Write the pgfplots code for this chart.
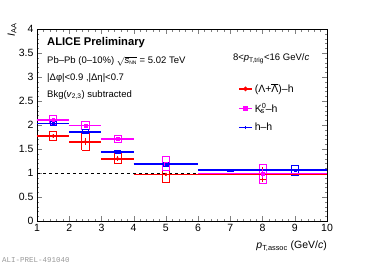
\documentclass[border=0pt]{standalone}
\usepackage{pgfplots}
\pgfplotsset{compat=1.18}
\usepackage{fontspec}
\setmainfont{Liberation Sans}
\newfontfamily\monofont{Liberation Mono}
\definecolor{rred}{RGB}{255,0,0}
\definecolor{rmag}{RGB}{255,0,255}
\definecolor{rblue}{RGB}{0,0,255}
\begin{document}
\begin{tikzpicture}
\begin{axis}[
  name=ax,
  width=290pt, height=192pt, scale only axis,
  xmin=1, xmax=10, ymin=0, ymax=4,
  xtick={1,2,...,10}, ytick={0,0.5,...,4},
  minor x tick num=4, minor y tick num=4,
  tick align=inside,
  major tick length=5pt, minor tick length=2.5pt,
  tick label style={font=\fontsize{10.5}{12}\selectfont},
  /pgf/number format/assume math mode=true,
  yticklabel style={/pgf/number format/fixed},
  xlabel={\textit{p}\textsubscript{T,assoc} (GeV/\textit{c})},
  ylabel={\textit{I}\textsubscript{AA}},
  xlabel style={at={(axis description cs:1,-0.13)}, anchor=east, inner sep=0pt, font=\fontsize{10.5}{12}\selectfont},
  ylabel style={at={(axis description cs:-0.07,1.03)}, anchor=south east, inner sep=0pt, font=\fontsize{10.5}{12}\selectfont},
  clip=false,
  legend style={draw=none, fill=none, at={(axis cs:7.24,2.91)}, anchor=north west,
    font=\fontsize{10.5}{12}\selectfont, row sep=5pt, inner sep=0pt},
  legend cell align=left,
  legend image code/.code={
    \draw[#1, mark=none] (0pt,0pt) -- (13pt,0pt);
    \draw[#1, draw=none] plot coordinates {(6.5pt,0pt)};
  },
]
% dashed reference
\addplot[black, dashed, thin, forget plot] coordinates {(1,1)(10,1)};

% red sys boxes
\addplot[draw=rred, line width=0.7pt, forget plot, unbounded coords=jump] coordinates {
(1.39,1.67)(1.61,1.67)(1.61,1.87)(1.39,1.87)(1.39,1.67) (1.5,nan)
(2.39,1.48)(2.61,1.48)(2.61,1.82)(2.39,1.82)(2.39,1.48) (2.5,nan)
(3.39,1.20)(3.61,1.20)(3.61,1.40)(3.39,1.40)(3.39,1.20) (3.5,nan)
(4.89,0.81)(5.11,0.81)(5.11,1.13)(4.89,1.13)(4.89,0.81) (5,nan)
(7.89,0.87)(8.11,0.87)(8.11,1.07)(7.89,1.07)(7.89,0.87)
};
% magenta sys boxes
\addplot[draw=rmag, line width=0.7pt, forget plot, unbounded coords=jump] coordinates {
(1.39,2.02)(1.61,2.02)(1.61,2.20)(1.39,2.20)(1.39,2.02) (1.5,nan)
(2.39,1.90)(2.61,1.90)(2.61,2.08)(2.39,2.08)(2.39,1.90) (2.5,nan)
(3.39,1.64)(3.61,1.64)(3.61,1.78)(3.39,1.78)(3.39,1.64) (3.5,nan)
(4.89,1.05)(5.11,1.05)(5.11,1.35)(4.89,1.35)(4.89,1.05) (5,nan)
(7.89,0.78)(8.11,0.78)(8.11,1.18)(7.89,1.18)(7.89,0.78)
};
% blue sys boxes
\addplot[draw=rblue, line width=0.7pt, forget plot, unbounded coords=jump] coordinates {
(1.41,1.99)(1.59,1.99)(1.59,2.07)(1.41,2.07)(1.41,1.99) (1.5,nan)
(2.41,1.82)(2.59,1.82)(2.59,1.90)(2.41,1.90)(2.41,1.82) (2.5,nan)
(3.41,1.41)(3.59,1.41)(3.59,1.47)(3.41,1.47)(3.41,1.41) (3.5,nan)
(4.91,1.14)(5.09,1.14)(5.09,1.22)(4.91,1.22)(4.91,1.14) (5,nan)
(6.91,1.04)(7.09,1.04)(7.09,1.08)(6.91,1.08)(6.91,1.04) (7,nan)
(8.89,0.96)(9.11,0.96)(9.11,1.16)(8.89,1.16)(8.89,0.96)
};

% horizontal bin-width bars (drawn red, magenta, blue)
\addplot[draw=rred, line width=1.8pt, forget plot, unbounded coords=jump] coordinates {
(1,1.77)(2,1.77) (2,nan) (2,1.65)(3,1.65) (3,nan) (3,1.30)(4,1.30) (4,nan)
(4,0.97)(6,0.97) (6,nan) (6,0.97)(10,0.97)
};
\addplot[draw=rmag, line width=1.8pt, forget plot, unbounded coords=jump] coordinates {
(1,2.11)(2,2.11) (2,nan) (2,1.99)(3,1.99) (3,nan) (3,1.71)(4,1.71) (4,nan)
(4,1.20)(6,1.20) (6,nan) (6,0.99)(10,0.99)
};
\addplot[draw=rblue, line width=1.8pt, forget plot, unbounded coords=jump] coordinates {
(1,2.03)(2,2.03) (2,nan) (2,1.86)(3,1.86) (3,nan) (3,1.44)(4,1.44) (4,nan)
(4,1.18)(6,1.18) (6,nan) (6,1.06)(8,1.06) (8,nan) (8,1.06)(10,1.06)
};

% red points
\addplot[rred, only marks, mark=*, mark size=1.4pt, forget plot,
  error bars/.cd, y dir=both, y explicit,
  error bar style={rred, line width=1.1pt}, error mark=none]
  table[x=x, y=y, y error=ey] {
x y ey
1.5 1.77 0.05
2.5 1.65 0.07
3.5 1.30 0.05
5 0.97 0.04
8 0.97 0.15
};
% magenta points with stat errors
\addplot[rmag, only marks, mark=square*, mark size=1.4pt, forget plot,
  error bars/.cd, y dir=both, y explicit,
  error bar style={rmag, line width=1.1pt}, error mark=none]
  table[x=x, y=y, y error=ey] {
x y ey
1.5 2.11 0.03
2.5 1.99 0.03
3.5 1.71 0.03
5 1.20 0.03
8 0.99 0.10
};
% blue points
\addplot[rblue, only marks, mark=square*, mark size=1.0pt, forget plot,
  error bars/.cd, y dir=both, y explicit,
  error bar style={rblue, line width=1.1pt}, error mark=none]
  table[x=x, y=y, y error=ey] {
x y ey
1.5 2.03 0.01
2.5 1.86 0.01
3.5 1.44 0.01
5 1.18 0.01
7 1.06 0.01
9 1.06 0.02
};

\addlegendimage{rred, line width=1.5pt, mark=*, mark size=1.4pt}
\addlegendentry{(Λ+$\overline{\hbox{Λ}}$)–h}
\addlegendimage{rmag, line width=1.5pt, mark=square*, mark size=1.4pt}
\addlegendentry{K\textsuperscript{0}\kern-0.55em\textsubscript{s}\kern0.1em–h}
\addlegendimage{rblue, line width=1.5pt, mark=+, mark size=1.4pt}
\addlegendentry{h–h}

\node[anchor=west, inner sep=0pt, font=\bfseries\fontsize{11.2}{13}\selectfont] at (axis cs:1.31,3.71) {ALICE Preliminary};
\node[anchor=west, inner sep=0pt, font=\fontsize{9.5}{11}\selectfont] at (axis cs:1.31,3.33) {Pb–Pb (0–10\%) $\sqrt{\textit{s}_{\mbox{\tiny NN}}}$ = 5.02 TeV};
\node[anchor=west, inner sep=0pt, font=\fontsize{9.5}{11}\selectfont] at (axis cs:1.31,2.98) {|Δφ|<0.9 ,|Δη|<0.7};
\node[anchor=west, inner sep=0pt, font=\fontsize{9.5}{11}\selectfont] at (axis cs:1.31,2.63) {Bkg(\textit{v}\textsubscript{2,3}) subtracted};
\node[anchor=west, inner sep=0pt, font=\fontsize{9.5}{11}\selectfont] at (axis cs:7.08,3.38) {8<\textit{p}\textsubscript{T,trig}<16 GeV/\textit{c}};
\end{axis}
\node[anchor=west, inner sep=0pt, text=gray!80, font=\monofont\fontsize{7.5}{8}\selectfont] at ([xshift=-35pt,yshift=-39pt]ax.south west) {ALI-PREL-491040};
\path ([xshift=-37pt,yshift=-47pt]ax.south west) rectangle ([xshift=38pt,yshift=29pt]ax.north east);
\end{tikzpicture}
\end{document}
